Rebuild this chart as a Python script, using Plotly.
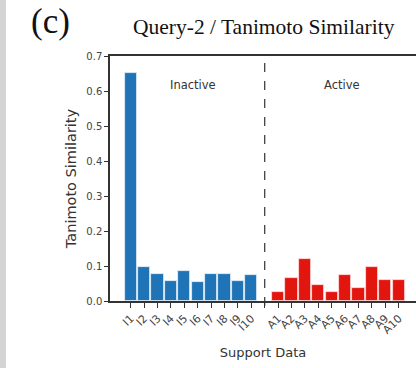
import plotly.graph_objects as go

inactive_labels = ["I1", "I2", "I3", "I4", "I5", "I6", "I7", "I8", "I9", "I10"]
inactive_values = [0.651, 0.098, 0.077, 0.058, 0.087, 0.054, 0.077, 0.077, 0.058, 0.074]
active_labels = ["A1", "A2", "A3", "A4", "A5", "A6", "A7", "A8", "A9", "A10"]
active_values = [0.025, 0.067, 0.120, 0.046, 0.025, 0.075, 0.038, 0.096, 0.059, 0.059]

W, H = 416, 368
ML, MR, MT, MB = 110, 0, 56, 67
PW, PH = W - ML - MR, H - MT - MB


def px(x):
    return (x - ML) / PW


def py(y):
    return (H - MB - y) / PH


n_in = len(inactive_labels)
x_in = list(range(n_in))
sep = n_in
x_act = [n_in + 1 + i for i in range(len(active_labels))]

fig = go.Figure()
fig.add_trace(go.Bar(x=x_in, y=inactive_values, width=0.9,
                     marker=dict(color="#1f74b8", line=dict(color="#e8f0f8", width=0.8)),
                     showlegend=False))
fig.add_trace(go.Bar(x=x_act, y=active_values, width=0.9,
                     marker=dict(color="#e3150f", line=dict(color="#fbe0e0", width=0.8)),
                     showlegend=False))

# dashed separator
fig.add_shape(type="line", xref="x", yref="paper", x0=sep, x1=sep, y0=py(306), y1=1,
              line=dict(color="#333333", width=1.2, dash="dash"))

tickvals = x_in + [sep] + x_act
ticktext = inactive_labels + [""] + active_labels

fig.update_xaxes(range=[-1.545, 21.29], tickvals=tickvals, ticktext=ticktext,
                 tickangle=-45, ticks="outside", ticklen=5, tickcolor="#333",
                 tickfont=dict(family="DejaVu Sans", size=11, color="#444"),
                 showline=True, linecolor="#333", linewidth=1.5, mirror=True,
                 showgrid=False, zeroline=False,
                 title=dict(text="Support Data", font=dict(family="DejaVu Sans", size=13, color="#333"),
                            standoff=12))
fig.update_yaxes(range=[0, 0.7], dtick=0.1, tickformat=".1f", ticks="outside", ticklen=4,
                 tickcolor="#333", tickfont=dict(family="DejaVu Sans", size=10, color="#444"),
                 showline=True, linecolor="#333", linewidth=1.5,
                 showgrid=False, zeroline=False,
                 title=dict(text="Tanimoto Similarity", font=dict(family="DejaVu Sans", size=14.5, color="#333"),
                            standoff=6))

fig.add_annotation(x=px(193), y=py(85), xref="paper", yref="paper", text="Inactive", showarrow=False,
                   xanchor="center", yanchor="middle",
                   font=dict(family="DejaVu Sans", size=11.5, color="#333"))
fig.add_annotation(x=px(342), y=py(85), xref="paper", yref="paper", text="Active", showarrow=False,
                   xanchor="center", yanchor="middle",
                   font=dict(family="DejaVu Sans", size=11.5, color="#333"))

# title and panel label
fig.add_annotation(x=px(264), y=py(27), xref="paper", yref="paper", yanchor="middle",
                   xanchor="center", text="Query-2 / Tanimoto Similarity", showarrow=False,
                   font=dict(family="Liberation Serif", size=21.5, color="#111"))
fig.add_annotation(x=px(50), y=py(21), xref="paper", yref="paper", yanchor="middle",
                   xanchor="center", text="(c)", showarrow=False,
                   font=dict(family="Liberation Serif", size=35, color="#111"))

# left grey frame strip
fig.add_shape(type="rect", xref="paper", yref="paper", x0=px(0), x1=px(6),
              y0=py(H), y1=py(0),
              fillcolor="#d4d4d4", line=dict(width=0), layer="above")

fig.update_layout(width=W, height=H, margin=dict(l=ML, r=MR, t=MT, b=MB),
                  paper_bgcolor="white", plot_bgcolor="white", bargap=0)

fig.write_html("out.html")
